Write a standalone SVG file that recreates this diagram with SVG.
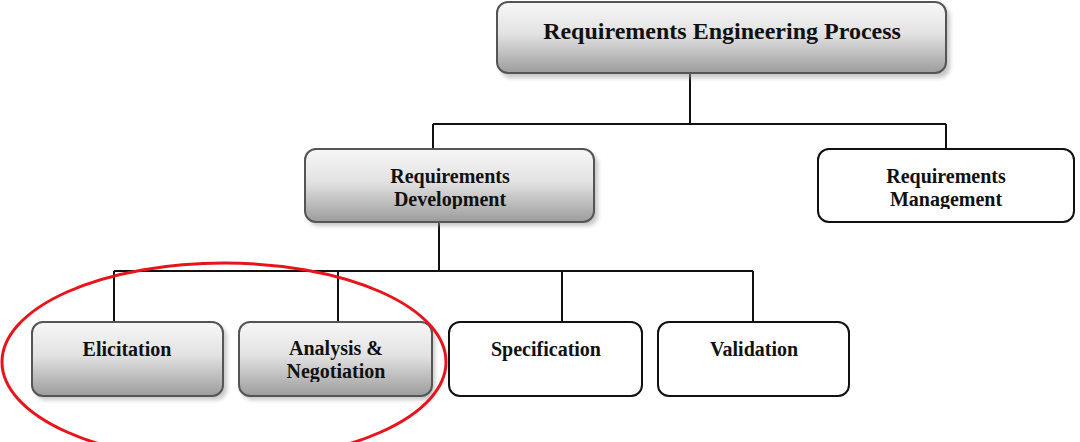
<svg xmlns="http://www.w3.org/2000/svg" width="1080" height="442" viewBox="0 0 1080 442">
<style>
.t{font-family:"Liberation Serif","Times New Roman",serif;font-weight:bold;fill:#111;text-anchor:middle;font-size:20px}
.g{fill:url(#grad);stroke:#555;stroke-width:2}
.w{fill:#fff;stroke:#111;stroke-width:2}
.sh{fill:#999;opacity:0.55;filter:url(#blur)}
.c{stroke:#111;stroke-width:2;fill:none}
</style>
<defs>
<linearGradient id="grad" x1="0" y1="0" x2="0" y2="1">
<stop offset="0" stop-color="#f7f7f7"/>
<stop offset="0.45" stop-color="#e2e2e2"/>
<stop offset="1" stop-color="#9c9c9c"/>
</linearGradient>
<filter id="blur" x="-10%" y="-10%" width="120%" height="130%"><feGaussianBlur stdDeviation="2"/></filter>
<clipPath id="clipMid"><rect x="0" y="140" width="1080" height="69"/></clipPath>
<clipPath id="clipLow"><rect x="0" y="310" width="1080" height="72"/></clipPath>
</defs>
<g id="connectors">
<path class="c" d="M690 74 V124 M433 124 H946 M433 124 V149 M946 124 V149"/>
<path class="c" d="M439 222 V271 M114 271 H753 M114 271 V322 M338 271 V322 M562 271 V322 M753 271 V322"/>
</g>
<g id="n-rep">
<rect class="sh" x="500" y="6" width="450" height="72" rx="11"/>
<rect class="g" x="497" y="2" width="449" height="71" rx="11"/>
<text class="t" x="722" y="39" style="font-size:24px">Requirements Engineering Process</text>
</g>
<g id="n-rd">
<rect class="sh" x="308" y="153" width="290" height="73" rx="11"/>
<rect class="g" x="305" y="149" width="289" height="73" rx="11"/>
<g clip-path="url(#clipMid)">
<text class="t" x="450" y="183">Requirements</text>
<text class="t" x="450" y="206">Development</text>
</g>
</g>
<g id="n-rm">
<rect class="w" x="818" y="149" width="256" height="73" rx="11"/>
<g clip-path="url(#clipMid)">
<text class="t" x="946" y="183">Requirements</text>
<text class="t" x="946" y="206">Management</text>
</g>
</g>
<g id="n-eli">
<rect class="sh" x="35" y="326" width="192" height="74" rx="11"/>
<rect class="g" x="32" y="322" width="191" height="74" rx="11"/>
<text class="t" x="127" y="356">Elicitation</text>
</g>
<g id="n-ana">
<rect class="sh" x="242" y="326" width="193" height="74" rx="11"/>
<rect class="g" x="239" y="322" width="193" height="74" rx="11"/>
<g clip-path="url(#clipLow)">
<text class="t" x="336" y="355">Analysis &amp;</text>
<text class="t" x="336" y="378">Negotiation</text>
</g>
</g>
<g id="n-spe">
<rect class="w" x="449" y="322" width="193" height="74" rx="11"/>
<text class="t" x="546" y="356">Specification</text>
</g>
<g id="n-val">
<rect class="w" x="658" y="322" width="191" height="74" rx="11"/>
<text class="t" x="754" y="356">Validation</text>
</g>
<ellipse cx="224" cy="362" rx="222" ry="99" fill="none" stroke="#e8141c" stroke-width="3"/>
</svg>
